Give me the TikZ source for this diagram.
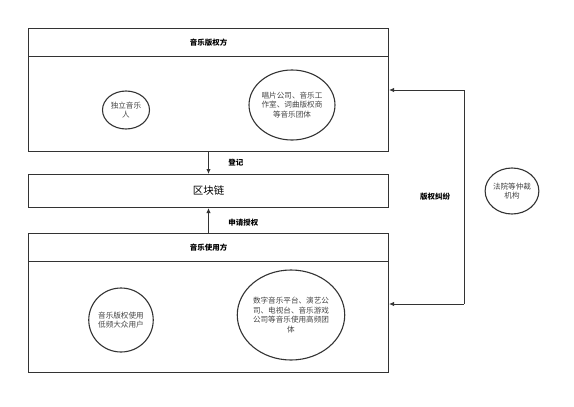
\documentclass[tikz,border=0pt]{standalone}
\usepackage{fontspec}
\setmainfont{Noto Sans CJK SC}
\usetikzlibrary{shapes.geometric,arrows.meta}

\definecolor{linegray}{HTML}{333333}
\definecolor{textgray}{HTML}{444444}

\tikzset{
  panel/.style={draw=linegray,line width=1pt,anchor=north west,inner sep=0pt},
  party/.style={ellipse,draw=linegray,line width=1.1pt,inner sep=0pt,align=center,
    text=textgray,font=\fontsize{7.6}{9.5}\selectfont},
  flow/.style={draw=linegray,line width=1pt,-{Latex[length=5pt,width=4.5pt]}},
  tag/.style={font=\fontsize{7.5}{9}\selectfont\bfseries,text=black}
}

\begin{document}
\begin{tikzpicture}[x=1pt,y=-1pt]

      \useasboundingbox (0,0) rectangle (574,407);

      % owners, chain, users
      \node[panel,minimum width=360pt,minimum height=28pt] (ownhead) at (28,28)
        {\fontsize{7.5}{9}\selectfont\bfseries 音乐版权方};
      \node[panel,minimum width=360pt,minimum height=95pt] (ownbody) at (28,56) {};
      \node[panel,minimum width=360pt,minimum height=33pt] (chain) at (28,174)
        {\fontsize{10.5}{12}\selectfont 区块链};
      \node[panel,minimum width=360pt,minimum height=28pt] (usehead) at (28,233)
        {\fontsize{7.5}{9}\selectfont\bfseries 音乐使用方};
      \node[panel,minimum width=360pt,minimum height=111pt] (usebody) at (28,261) {};

      \begin{scope}[every node/.style={party}]
        \node[minimum width=47pt,minimum height=38pt] (indie) at (126,110) {独立音乐\\人};
        \node[minimum width=77pt,minimum height=70pt] (label) at (292,105)
          {唱片公司、音乐工\\作室、词曲版权商\\等音乐团体};
        \node[minimum width=57pt,minimum height=64pt] (public) at (121,320)
          {音乐版权使用\\低频大众用户};
        \node[minimum width=94pt,minimum height=90pt] (platform) at (291,315)
          {数字音乐平台、演艺公\\司、电视台、音乐游戏\\公司等音乐使用高频团\\体};
        \node[minimum width=52pt,minimum height=46pt] (court) at (512,191)
          {法院等仲裁\\机构};
      \end{scope}

      \coordinate (ctop) at (464,90);
      \coordinate (cbot) at (464,304);

      \path (ownbody.south) edge[flow] node[tag,right=16pt] {登记} (chain.north);
      \path (usehead.north) edge[flow] node[tag,right=16pt,pos=0.4] {申请授权} (chain.south);
      \draw[flow] (ctop) -- (ownbody.east |- ctop);
      \draw[flow] (cbot) -- (usebody.east |- cbot);
      \path[draw=linegray,line width=1pt] (ctop) -- node[tag,left=10pt] {版权纠纷} (cbot);

    \end{tikzpicture}
\end{document}
